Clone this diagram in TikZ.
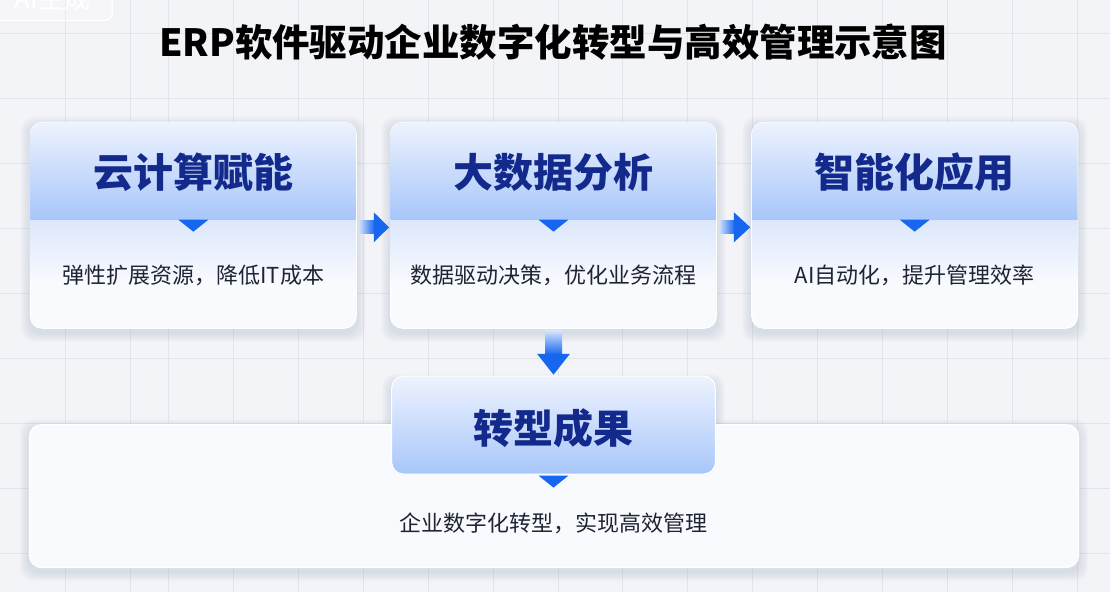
\documentclass[tikz,border=0pt]{standalone}
\usepackage{fontspec}
\setmainfont{Noto Sans CJK SC}
\usetikzlibrary{calc}
\definecolor{bgc}{HTML}{F3F4F7}
\definecolor{gridc}{HTML}{E2E4E9}
\definecolor{bodyBot}{HTML}{F8FAFE}
\definecolor{hdTop}{HTML}{EDF3FE}
\definecolor{hdBot}{HTML}{A8C6FA}
\definecolor{navy}{HTML}{13298C}
\definecolor{ink}{HTML}{1E2433}
\definecolor{blueTip}{HTML}{1766F0}
\definecolor{arLight}{HTML}{D4E3FD}
\definecolor{bodyShade}{HTML}{DCE7FB}
\definecolor{shadowc}{HTML}{5A6A8A}
\pgfdeclarelayer{bglayer}
\pgfdeclarelayer{shadowlayer}
\pgfsetlayers{bglayer,shadowlayer,main}
\newcommand\softshadow[2]{%
  \begin{pgfonlayer}{shadowlayer}
  \foreach \i in {1,...,9} {
    \fill[shadowc, opacity=0.014, rounded corners=12pt]
      ([xshift=-\i pt, yshift=\i pt-#2]#1.north west) rectangle ([xshift=\i pt, yshift=-\i pt-#2]#1.south east);
  }
  \end{pgfonlayer}}
\tikzset{
  cardbox/.style={rectangle, rounded corners=12pt, minimum width=326, minimum height=206,
    fill=bodyBot, draw=white, line width=1.2pt},
  bigbox/.style={rectangle, rounded corners=12pt, minimum width=1050, minimum height=143,
    fill=bodyBot, draw=white, line width=1.2pt},
  resbox/.style={rectangle, rounded corners=12pt, minimum width=324, minimum height=98,
    top color=hdTop, bottom color=hdBot, draw=white, line width=1pt},
  headtext/.style={font=\fontsize{40}{44}\selectfont\bfseries, text=navy, inner sep=0pt},
  bodytext/.style={font=\fontsize{22}{26}\selectfont, text=ink, inner sep=0pt},
  tip/.style={fill=blueTip},
}
\begin{document}
\begin{tikzpicture}[x=1pt,y=-1pt]
\begin{pgfonlayer}{bglayer}
\fill[bgc] (0,0) rectangle (1110,592);
\foreach \gx in {65,130,168,233,...,1090} \draw[gridc, line width=1pt] (\gx,0) -- (\gx,592);
\foreach \gy in {33,98,...,592} \draw[gridc, line width=1pt] (0,\gy) -- (1110,\gy);
\end{pgfonlayer}
\useasboundingbox (0,0) rectangle (1110,592);
% watermark
\node[rectangle, rounded corners=8pt, draw=white, line width=1.5pt, fill=white, fill opacity=0.25,
  text opacity=1, minimum width=120, minimum height=44, font=\fontsize{26}{28}\selectfont, text=white]
  (wm) at (52,-2) {AI生成};
% title
\node[font=\fontsize{37.5}{40}\selectfont\bfseries, text=black, inner sep=0pt] (title) at (553,42)
  {ERP软件驱动企业数字化转型与高效管理示意图};
% bottom big card
\node[bigbox] (bc) at (554,496) {};
\softshadow{bc}{4pt}
% three cards
\foreach \n/\cx in {c1/193, c2/553.5, c3/915} {
  \node[cardbox] (\n) at (\cx,225) {};
  \softshadow{\n}{4pt}
  \begin{scope}
    \clip[rounded corners=12pt] ([xshift=0.6pt,yshift=-0.6pt]\n.north west) rectangle ([xshift=-0.6pt,yshift=0.6pt]\n.south east);
    \shade[top color=bodyShade, bottom color=bodyBot] ([yshift=-98pt]\n.north west) rectangle ([yshift=-160pt]\n.north east);
    \shade[top color=hdTop, bottom color=hdBot] (\n.north west) rectangle ([yshift=-98pt]\n.north east);
  \end{scope}
  \fill[tip] ([xshift=-15pt,yshift=-98pt]\n.north) -- ([xshift=15pt,yshift=-98pt]\n.north) -- ([yshift=-110pt]\n.north) -- cycle;
}
\node[headtext] (h1) at (193,172) {云计算赋能};
\node[headtext] (h2) at (553.5,172) {大数据分析};
\node[headtext] (h3) at (915,172) {智能化应用};
\node[bodytext] (b1) at (193,275) {弹性扩展资源，降低IT成本};
\node[bodytext] (b2) at (553.5,275) {数据驱动决策，优化业务流程};
\node[bodytext] (b3) at (915,275) {AI自动化，提升管理效率};
% result header
\node[resbox] (r) at (553.5,425) {};
\softshadow{r}{7pt}
\node[headtext] (rt) at (553.5,428) {转型成果};
\fill[tip] ([xshift=-15pt,yshift=-1pt]r.south) -- ([xshift=15pt,yshift=-1pt]r.south) -- ([yshift=-13pt]r.south) -- cycle;
\node[bodytext] (rb) at (553.5,523) {企业数字化转型，实现高效管理};
% horizontal arrows
\foreach \a/\b in {c1/c2, c2/c3} {
  \shade[left color=arLight, right color=blueTip] ($(\a.east)+(2,-4.5)$) rectangle ($(\a.east)+(18,8.5)$);
  \fill[tip] ($(\a.east)+(17,-13)$) -- ($(\b.west)+(-1,2)$) -- ($(\a.east)+(17,17)$) -- cycle;
}
% down arrow
\shade[top color=arLight, bottom color=blueTip] ($(c2.south)+(-8.5,2)$) rectangle ($(c2.south)+(8.5,26)$);
\fill[tip] ($(c2.south)+(-16.5,25)$) -- ($(c2.south)+(16.5,25)$) -- ($(r.north)+(0,-1)$) -- cycle;
\end{tikzpicture}
\end{document}
